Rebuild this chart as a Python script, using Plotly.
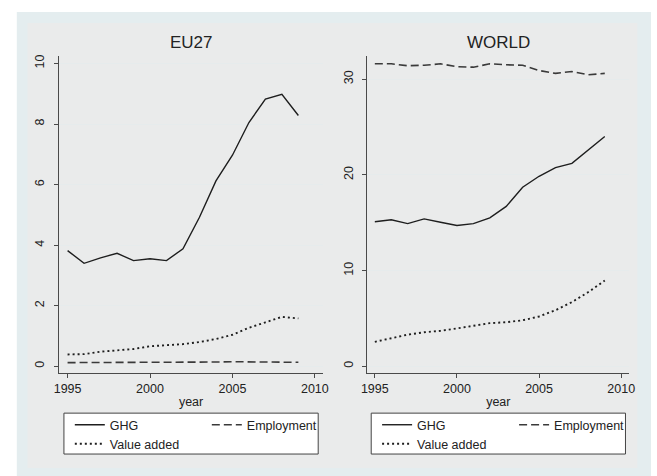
import plotly.graph_objects as go

years = list(range(1995, 2010))

eu_ghg = [3.82, 3.40, 3.58, 3.73, 3.49, 3.55, 3.49, 3.88, 4.92, 6.12, 6.97, 8.05, 8.82, 8.98, 8.28]
eu_emp = [0.12, 0.12, 0.12, 0.12, 0.12, 0.12, 0.12, 0.13, 0.13, 0.14, 0.15, 0.15, 0.15, 0.15, 0.13]
eu_va = [0.39, 0.40, 0.48, 0.52, 0.57, 0.66, 0.70, 0.73, 0.80, 0.90, 1.04, 1.27, 1.45, 1.63, 1.58]

w_ghg = [15.1, 15.3, 14.9, 15.4, 15.05, 14.7, 14.9, 15.5, 16.7, 18.7, 19.85, 20.75, 21.2, 22.55, 24.0]
w_emp = [31.6, 31.6, 31.4, 31.45, 31.6, 31.3, 31.25, 31.6, 31.5, 31.45, 30.9, 30.6, 30.8, 30.45, 30.6]
w_va = [2.55, 2.9, 3.3, 3.55, 3.7, 3.95, 4.25, 4.5, 4.6, 4.8, 5.2, 5.85, 6.7, 7.75, 8.95]

panel_titles = ["EU27", "WORLD"]
series_names = ["GHG", "Employment", "Value added"]
x_ticks = [1995, 2000, 2005, 2010]
eu_y_ticks = [0, 2, 4, 6, 8, 10]
w_y_ticks = [0, 10, 20, 30]

W, H = 657, 476
FONT = "Arial, Liberation Sans, sans-serif"

def px(x):
    return x / W

def py(y):
    return 1 - y / H

fig = go.Figure()

styles = [
    dict(color="#1e1e1e", width=1.4, dash="solid"),
    dict(color="#3a3a3a", width=1.6, dash="8px,4px"),
    dict(color="#1e1e1e", width=1.9, dash="2px,3px"),
]

panels = [
    ("x", "y", [eu_ghg, eu_emp, eu_va], "legend", "legend2"),
    ("x2", "y2", [w_ghg, w_emp, w_va], "legend3", "legend4"),
]
for xa, ya, data, lg1, lg2 in panels:
    for i, (name, vals) in enumerate(zip(series_names, data)):
        fig.add_trace(go.Scatter(
            x=years, y=vals, mode="lines", name=name,
            line=styles[i], xaxis=xa, yaxis=ya,
            legend=lg1 if i < 2 else lg2,
            hoverinfo="skip",
        ))

ydom = [py(373), py(55)]
axis_common = dict(
    showline=True, linecolor="#4a4a4a", linewidth=1,
    ticks="outside", ticklen=4, tickcolor="#4a4a4a", tickwidth=1,
    tickfont=dict(family=FONT, size=12.5, color="#222"),
    zeroline=False,
)
fig.update_layout(
    width=W, height=H,
    margin=dict(l=0, r=0, t=0, b=0),
    paper_bgcolor="white", plot_bgcolor="white",
    showlegend=True,
    xaxis=dict(domain=[px(54), px(323)], range=[1994.48, 2010.5], tickvals=x_ticks,
               showgrid=False, anchor="y",
               title=dict(text="year", standoff=2, font=dict(family=FONT, size=12.5, color="#222")),
               **axis_common),
    yaxis=dict(domain=ydom, range=[-0.23, 10.25], tickvals=eu_y_ticks, tickangle=-90,
               ticklabelstandoff=5,
               showgrid=True, gridcolor="#e6ebec", gridwidth=1.2, anchor="x", **axis_common),
    xaxis2=dict(domain=[px(368), px(635)], range=[1994.54, 2010.5], tickvals=x_ticks,
                showgrid=False, anchor="y2",
                title=dict(text="year", standoff=2, font=dict(family=FONT, size=12.5, color="#222")),
                **axis_common),
    yaxis2=dict(domain=ydom, range=[-0.73, 32.43], tickvals=w_y_ticks, tickangle=-90,
                ticklabelstandoff=4,
                showgrid=True, gridcolor="#e6ebec", gridwidth=1.2, anchor="x2", **axis_common),
)

leg_common = dict(orientation="h", xanchor="left", yanchor="middle",
                  bgcolor="rgba(0,0,0,0)", borderwidth=0,
                  font=dict(family=FONT, size=12.5, color="#222"),
                  entrywidth=92, entrywidthmode="pixels", itemclick=False, itemdoubleclick=False)
fig.update_layout(
    legend=dict(x=px(65), y=py(425), **leg_common),
    legend2=dict(x=px(65), y=py(444), **leg_common),
    legend3=dict(x=px(378), y=py(425), **leg_common),
    legend4=dict(x=px(378), y=py(444), **leg_common),
)

shapes = [
    dict(type="rect", xref="paper", yref="paper", x0=px(11), x1=1, y0=0, y1=py(11),
         fillcolor="#e4edef", line=dict(width=0), layer="below"),
    dict(type="rect", xref="paper", yref="paper", x0=px(22), x1=px(643), y0=py(468), y1=py(22),
         fillcolor="#eaebeb", line=dict(width=0), layer="below"),
    dict(type="rect", xref="paper", yref="paper", x0=px(59), x1=px(318), y0=py(454), y1=py(413),
         fillcolor="white", line=dict(width=1, color="#444"), layer="below"),
    dict(type="rect", xref="paper", yref="paper", x0=px(372), x1=px(631), y0=py(454), y1=py(413),
         fillcolor="white", line=dict(width=1, color="#444"), layer="below"),
]
fig.update_layout(shapes=shapes)

annotations = [
    dict(text=panel_titles[0], x=px(188.5), y=py(53), xref="paper", yref="paper",
         xanchor="center", yanchor="bottom", showarrow=False,
         font=dict(family=FONT, size=17, color="#222")),
    dict(text=panel_titles[1], x=px(501.5), y=py(53), xref="paper", yref="paper",
         xanchor="center", yanchor="bottom", showarrow=False,
         font=dict(family=FONT, size=17, color="#222")),
]
fig.update_layout(annotations=annotations)

fig.write_html("out.html")
